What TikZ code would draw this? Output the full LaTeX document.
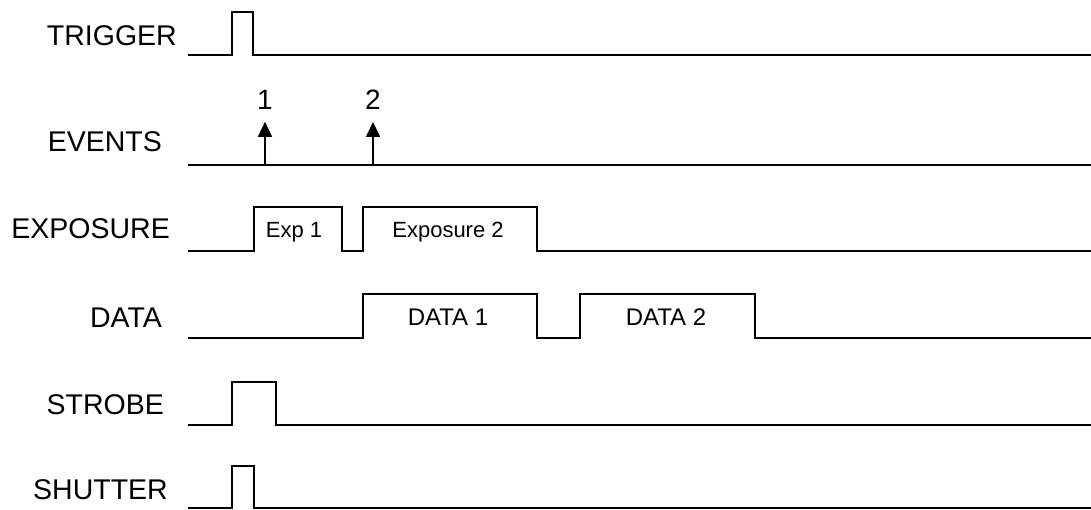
\documentclass[tikz,border=0pt]{standalone}
\usepackage{fontspec}
\setmainfont{Liberation Sans}
\usetikzlibrary{arrows.meta}
\tikzset{
  sig/.style={line width=1.6pt, line join=miter},
  signame/.style={anchor=east, inner sep=0pt, font=\fontsize{28.5}{32}\selectfont},
  inlabel/.style={inner sep=0pt, font=\fontsize{22}{26}\selectfont},
  datalabel/.style={inner sep=0pt, font=\fontsize{24}{28}\selectfont},
  evlabel/.style={inner sep=0pt, font=\fontsize{28}{32}\selectfont},
  evarrow/.style={line width=1.6pt, -{Triangle[length=15pt,width=14pt]}}
}
\begin{document}
\begin{tikzpicture}[x=1pt,y=-1pt]
\useasboundingbox (0,0) rectangle (1091,510);

% signal names
\node[signame] (trigger) at (177,36) {TRIGGER};
\node[signame] (events) at (162,142) {EVENTS};
\node[signame] (exposure) at (170,229) {EXPOSURE};
\node[signame] (data) at (162,318) {DATA};
\node[signame] (strobe) at (164,405) {STROBE};
\node[signame] (shutter) at (168,490) {SHUTTER};

% trigger
\draw[sig] (188,55)--(232,55)--(232,12)--(253,12)--(253,55)--(1091,55);

% events
\draw[sig] (188,165)--(1091,165);
\coordinate (ev1) at (265,165);
\coordinate (ev2) at (373,165);
\node[evlabel] (num1) at (265,100) {1};
\node[evlabel] (num2) at (373,100) {2};
\draw[evarrow] (ev1) -- ([yshift=-12pt]num1.south);
\draw[evarrow] (ev2) -- ([yshift=-12pt]num2.south);

% exposure
\draw[sig] (188,251)--(254,251)--(254,207)--(342,207)--(342,251)--(363,251)
  --(363,207)--(537,207)--(537,251)--(1091,251);
\node[inlabel] (exp1) at (294,232) {Exp 1};
\node[inlabel] (exp2) at (448,232) {Exposure 2};

% data
\draw[sig] (188,338)--(363,338)--(363,294)--(537,294)--(537,338)--(580,338)
  --(580,294)--(755,294)--(755,338)--(1091,338);
\node[datalabel] (data1) at (448,317) {DATA 1};
\node[datalabel] (data2) at (666,317) {DATA 2};

% strobe
\draw[sig] (188,425)--(232,425)--(232,382)--(276,382)--(276,425)--(1091,425);

% shutter
\draw[sig] (188,508)--(232,508)--(232,466)--(254,466)--(254,508)--(1091,508);
\end{tikzpicture}
\end{document}
